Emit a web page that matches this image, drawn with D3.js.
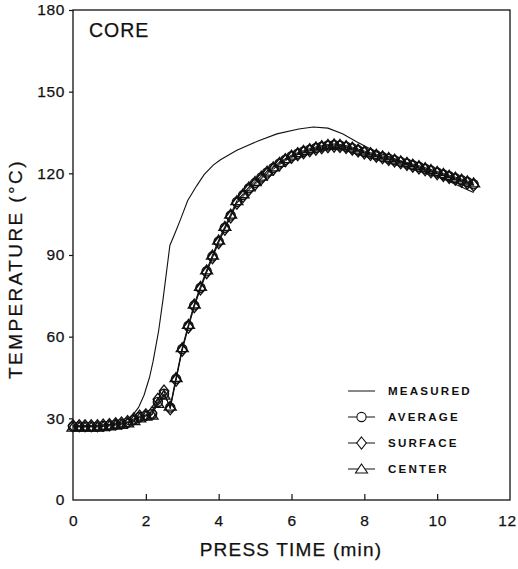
<!DOCTYPE html>
<html>
  <head>
    <script src="https://d3js.org/d3.v7.min.js"></script>
    <style>
      body { margin: 0; background: #fff; }
      text { font-family: "Liberation Sans", Arial, Helvetica, sans-serif; fill: #111; stroke: #111; stroke-width: 0.25px; }
      .axis .domain { display: none; }
      .axis .tick line { stroke: #111; stroke-width: 1.2px; }
      .axis .tick text { font-size: 15.5px; letter-spacing: 0.6px; }
      .legend text { font-size: 11.6px; font-weight: bold; letter-spacing: 2.2px; stroke: none; }
    </style>
  </head>
  <body>
    <svg width="518" height="569"></svg>
    <script>
      // measured core temperature (thermocouple)
      const measuredTime = [0, 0.5, 1.0, 1.4, 1.6, 1.8, 1.95, 2.1, 2.2, 2.35, 2.47, 2.57, 2.66, 2.8, 2.95,
        3.15, 3.4, 3.6, 3.85, 4.05, 4.5, 5.1, 5.6, 6.2, 6.6, 7.0, 7.4, 7.8, 8.3, 8.8, 9.5, 10.0, 10.5, 11.0];
      const measuredTemp = [27, 27.3, 27.8, 28.8, 30.5, 34, 38.5, 45, 51, 62, 73.5, 84, 93.5, 98, 103,
        110, 115.5, 119.5, 123, 125, 128.5, 132, 134.5, 136.3, 137, 136.6, 134.5, 131.5, 128, 125.5, 122, 119, 116, 113];

      // model output, every 10 s
      const simTime = [0, 0.17, 0.33, 0.5, 0.67, 0.83, 1, 1.17, 1.33, 1.5, 1.67, 1.83,
        2, 2.17, 2.33, 2.5, 2.67, 2.83, 3, 3.17, 3.33, 3.5, 3.67, 3.83,
        4, 4.17, 4.33, 4.5, 4.67, 4.83, 5, 5.17, 5.33, 5.5, 5.67, 5.83,
        6, 6.17, 6.33, 6.5, 6.67, 6.83, 7, 7.17, 7.33, 7.5, 7.67, 7.83,
        8, 8.17, 8.33, 8.5, 8.67, 8.83, 9, 9.17, 9.33, 9.5, 9.67, 9.83,
        10, 10.17, 10.33, 10.5, 10.67, 10.83, 11];
      const average = [27, 27, 27, 27, 27, 27.2, 27.4, 27.7, 28, 28.5, 29.5, 30.5,
        31, 31.5, 36, 39, 34, 44.5, 55.5, 64, 71.5, 78, 84, 89.5,
        95, 100, 104.5, 109.5, 112, 114.5, 116.5, 118.5, 120.3, 122, 123.6, 125,
        126.3, 127.2, 128, 128.7, 129.3, 129.8, 130.2, 130.4, 130.2, 129.8, 129.2, 128.5,
        127.8, 127.2, 126.6, 126, 125.4, 124.8, 124.2, 123.6, 123, 122.4, 121.7, 121,
        120.3, 119.6, 118.9, 118.2, 117.5, 116.8, 116];
      const surface = [27.3, 27.3, 27.3, 27.3, 27.3, 27.5, 27.7, 28, 28.3, 28.8, 29.8, 30.8,
        31.3, 32, 37, 40, 33.5, 44, 55, 63.5, 71, 77.5, 83.5, 89,
        94.5, 99.5, 104, 109, 111.5, 114, 116, 118, 119.8, 121.5, 123.2, 124.6,
        125.9, 126.8, 127.6, 128.3, 128.9, 129.4, 129.8, 130, 129.9, 129.5, 128.9, 128.2,
        127.5, 126.9, 126.3, 125.7, 125.1, 124.5, 123.9, 123.3, 122.6, 122, 121.3, 120.6,
        119.9, 119.2, 118.5, 117.8, 117.1, 116.4, 115.6];
      const center = [26.8, 26.8, 26.8, 26.8, 26.8, 27, 27.2, 27.5, 27.8, 28.3, 29.2, 30.2,
        30.8, 31.2, 35.5, 38.5, 34.5, 45, 56, 64.5, 72, 78.5, 84.5, 90,
        95.5, 100.5, 105, 110, 112.5, 115, 117, 119, 120.8, 122.4, 124, 125.4,
        126.7, 127.6, 128.4, 129.1, 129.7, 130.2, 130.6, 130.8, 130.6, 130.2, 129.6, 128.9,
        128.2, 127.6, 127, 126.4, 125.8, 125.2, 124.6, 124, 123.4, 122.8, 122.1, 121.4,
        120.7, 120, 119.3, 118.6, 117.9, 117.2, 116.5];

      const xTicks = [0, 2, 4, 6, 8, 10, 12];
      const yTicks = [0, 30, 60, 90, 120, 150, 180];
      const legendNames = ["MEASURED", "AVERAGE", "SURFACE", "CENTER"];

      const svg = d3.select("svg");
      const x = d3.scaleLinear().domain([0, 12]).range([73, 510]);
      const y = d3.scaleLinear().domain([0, 180]).range([500, 10]);

      // marker glyphs, drawn around (0,0)
      const glyphs = {
        circle: "M-4.6,0A4.6,4.6 0 1,1 4.6,0A4.6,4.6 0 1,1 -4.6,0Z",
        diamond: "M0,-6L4.8,0L0,6L-4.8,0Z",
        triangle: "M0,-5L6,4L-6,4Z"
      };

      svg.append("rect")
          .attr("x", x(0)).attr("y", y(180))
          .attr("width", x(12) - x(0)).attr("height", y(0) - y(180))
          .attr("fill", "none").attr("stroke", "#111").attr("stroke-width", 1.3);

      svg.append("g")
          .attr("class", "axis")
          .attr("transform", `translate(0,${y(0)})`)
          .call(d3.axisBottom(x).tickValues(xTicks).tickSize(-6).tickPadding(15));
      svg.append("g")
          .attr("class", "axis")
          .attr("transform", `translate(${x(0)},0)`)
          .call(d3.axisLeft(y).tickValues(yTicks).tickSize(4).tickPadding(4));

      // no tick marks at the frame corners; keep the last label inside the page
      svg.selectAll(".axis .tick line").filter(d => d === 12 || d === 0).remove();
      svg.selectAll(".axis .tick text").filter(d => d === 12).attr("dx", -3);

      svg.append("text")
          .attr("x", 291).attr("y", 556)
          .attr("text-anchor", "middle")
          .style("font-size", "19px").style("letter-spacing", "1.2px")
          .text("PRESS TIME (min)");
      svg.append("text")
          .attr("transform", "translate(22,269) rotate(-90)")
          .attr("text-anchor", "middle")
          .style("font-size", "19px").style("letter-spacing", "2.4px")
          .text("TEMPERATURE (\u00B0C)");
      svg.append("text")
          .attr("x", 89).attr("y", 37)
          .style("font-size", "19.5px").style("letter-spacing", "1px")
          .text("CORE");

      const line = d3.line().x(d => x(d[0])).y(d => y(d[1]));

      svg.append("path")
          .datum(measuredTime.map((t, i) => [t, measuredTemp[i]]))
          .attr("d", line)
          .attr("fill", "none").attr("stroke", "#111").attr("stroke-width", 1.1);

      const series = [
        {values: average, glyph: "circle"},
        {values: surface, glyph: "diamond"},
        {values: center, glyph: "triangle"}
      ];

      series.forEach(s => {
        const pts = simTime.map((t, i) => [t, s.values[i]]);
        svg.append("path")
            .datum(pts)
            .attr("d", line)
            .attr("fill", "none").attr("stroke", "#111").attr("stroke-width", 1);
        svg.append("g").selectAll("path")
          .data(pts)
          .join("path")
            .attr("transform", d => `translate(${x(d[0])},${y(d[1])})`)
            .attr("d", glyphs[s.glyph])
            .attr("fill", "none").attr("stroke", "#111").attr("stroke-width", 1.3);
      });

      // legend
      const legend = svg.append("g").attr("class", "legend");
      const ly = d3.scalePoint().domain(legendNames).range([391, 469]);
      const lg = legend.selectAll("g")
        .data(legendNames)
        .join("g")
          .attr("transform", d => `translate(0,${ly(d)})`);
      lg.append("line")
          .attr("x1", 348).attr("x2", 375)
          .attr("stroke", "#111").attr("stroke-width", 1);
      lg.filter((d, i) => i > 0).append("path")
          .attr("transform", "translate(361.5,0)")
          .attr("d", (d, i) => glyphs[series[i].glyph])
          .attr("fill", "#fff").attr("stroke", "#111").attr("stroke-width", 1.1);
      lg.append("text")
          .attr("x", 388).attr("dy", "0.36em")
          .text(d => d);
    </script>
  </body>
</html>
